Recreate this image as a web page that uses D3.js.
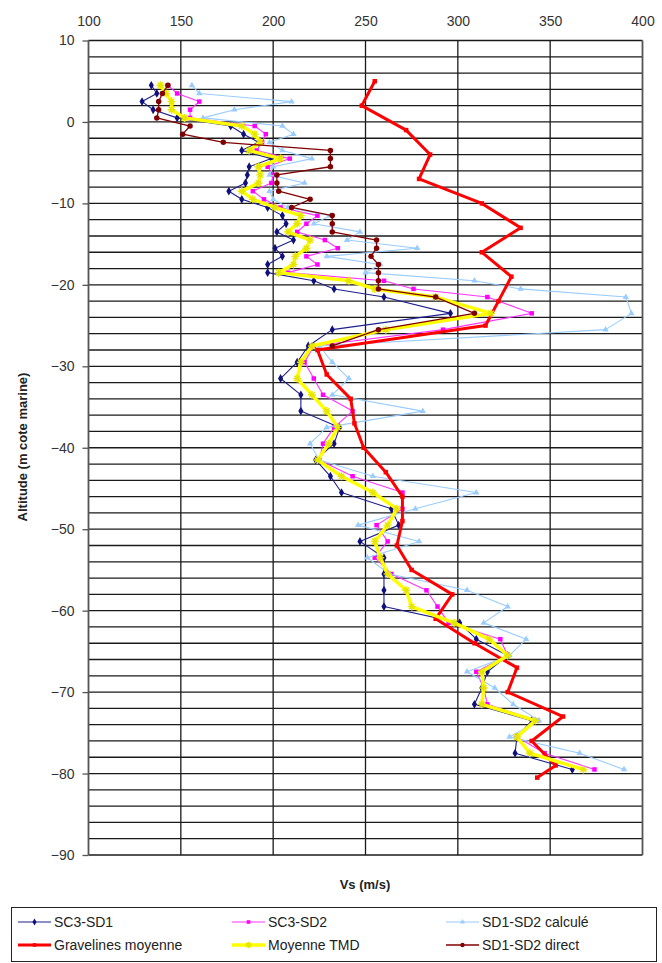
<!DOCTYPE html>
<html><head><meta charset="utf-8">
<script src="https://cdn.jsdelivr.net/npm/d3@7/dist/d3.min.js"></script>
<style>body{margin:0;background:#fff}svg{display:block}text{font-family:"Liberation Sans",Arial,sans-serif}</style>
</head><body><svg id="c" width="662" height="963"></svg>
<script>
// ---------- DATA ----------
const xTicks = [100, 150, 200, 250, 300, 350, 400];
const yTicks = [10, 0, -10, -20, -30, -40, -50, -60, -70, -80, -90];

// depth grid shared by SC3-SD1, SC3-SD2, SD1-SD2 calculé, Moyenne TMD (m)
const depths = [4.5, 3.5, 2.5, 1.5, 0.5, -0.5, -1.5, -2.5, -3.5, -4.5, -5.5, -6.5, -7.5, -8.5, -9.5,
  -10.5, -11.5, -12.5, -13.5, -14.5, -15.5, -16.5, -17.5, -18.5, -19.5, -20.5, -21.5,
  -23.5, -25.5, -27.5, -29.5, -31.5, -33.5, -35.5, -37.5, -39.5, -41.5, -43.5, -45.5, -47.5,
  -49.5, -51.5, -53.5, -55.5, -57.5, -59.5, -61.5, -63.5, -65.5, -67.5, -69.5, -71.5, -73.5,
  -75.5, -77.5, -79.5];

const sc3sd1 = [134, 137, 129, 135, 148, 177, 184, 192, 183, 199, 187, 186, 185, 176, 183,
  197, 205, 207, 202, 211, 201, 205, 197, 197, 222, 233, 260,
  296, 232, 219, 213, 204, 215, 215, 236, 233, 223, 231, 237, 264,
  268, 247, 260, 260, 260, 260, 301, 310, 327, 316, 313, 309, 340,
  332, 331, 362];

const sc3sd2 = [143, 148, 160, 155, 155, 190, 196, 194, 191, 209, 197, 200, 199, 189, 195,
  204, 224, 218, 213, 228, 235, 218, 224, 208, 260, 276, 316,
  340, 292, 222, 217, 222, 227, 243, 233, 227, 225, 243, 270, 270,
  256, 262, 255, 264, 283, 289, 295, 323, 327, 310, 314, 316, 343,
  332, 347, 374];

const sd1sd2Calc = [156, 160, 210, 179, 162, 205, 211, 198, 205, 221, 200, 198, 217, 198, 200,
  208, 231, 222, 247, 240, 278, 229, 258, 250, 309, 334, 391,
  394, 380, 225, 232, 241, 232, 281, 229, 220, 225, 254, 310, 277,
  246, 279, 251, 263, 305, 327, 314, 337, 328, 305, 320, 330, 344,
  328, 366, 390];

const moyenneTMD = [139, 142, 145, 145, 152, 183, 190, 193, 187, 204, 192, 193, 192, 183, 189,
  201, 215, 213, 208, 220, 218, 212, 211, 203, 241, 255, 288,
  318, 261, 221, 215, 213, 221, 229, 235, 230, 224, 237, 254, 267,
  262, 255, 258, 262, 272, 275, 298, 317, 327, 313, 314, 313, 342,
  332, 339, 368];

const depthsDirect = [4.5, 3.5, 2.5, 1.5, 0.5, -0.5, -1.5, -2.5, -3.5, -4.5, -5.5, -6.5, -7.5, -8.5, -9.5,
  -10.5, -11.5, -12.5, -13.5, -14.5, -15.5, -16.5, -17.5, -18.5, -19.5, -20.5, -21.5,
  -23.5, -25.5, -27.5];
const sd1sd2Direct = [143, 140, 138, 138, 137, 155, 151, 173, 231, 231, 231, 202, 202, 203, 220,
  210, 232, 232, 232, 256, 256, 253, 257, 257, 257, 257, 288,
  309, 257, 232];

const depthsGravelines = [5, 2, -1, -4, -7, -10, -13, -16, -19, -22, -25, -28, -31, -34, -37, -40,
  -43, -46, -49, -52, -55, -58, -61, -64, -67, -70, -73, -76, -79, -80.5];
const gravelines = [255, 248, 272, 285, 279, 313, 334, 313, 329, 322, 315, 224, 229, 242, 244, 249,
  261, 270, 270, 267, 275, 297, 288, 309, 332, 327, 357, 340, 353, 343];

const seriesNames = ["SC3-SD1", "SC3-SD2", "SD1-SD2 calculé", "Gravelines moyenne", "Moyenne TMD", "SD1-SD2 direct"];

// ---------- CHART ----------
const svg = d3.select("#c");
const x = d3.scaleLinear().domain([100, 400]).range([88.5, 642.5]);
const y = d3.scaleLinear().domain([10, -90]).range([40.5, 855]);

// horizontal grid every 2 m
const gridG = svg.append("g");
gridG.selectAll("line.h").data(d3.range(-90, 10.01, 2)).join("line")
  .attr("x1", x(100)).attr("x2", x(400))
  .attr("y1", d => y(d)).attr("y2", d => y(d))
  .attr("stroke", "#1a1a1a").attr("stroke-width", 1.3);
// vertical grid
gridG.selectAll("line.v").data(xTicks).join("line")
  .attr("x1", d => x(d)).attr("x2", d => x(d))
  .attr("y1", y(10)).attr("y2", y(-90))
  .attr("stroke", d => (d === 100 || d === 400) ? "#555" : "#1a1a1a")
  .attr("stroke-width", d => (d === 100 || d === 400) ? 1.8 : 1.3);

// axes
const topAxis = d3.axisTop(x).tickValues(xTicks).tickSize(0).tickPadding(0);
const gx = svg.append("g").attr("transform", "translate(0,22)").call(topAxis);
gx.select(".domain").remove();
gx.selectAll("text").attr("font-size", 14).attr("fill", "#333").attr("dy", "0.3em")
  .style("font-family", '"Liberation Sans",Arial,sans-serif');

const leftAxis = d3.axisLeft(y).tickValues(yTicks).tickSize(6).tickPadding(8).tickFormat(d3.format("d"));
const gy = svg.append("g").attr("transform", `translate(${x(100)},0)`).call(leftAxis);
gy.select(".domain").remove();
gy.selectAll("line").attr("stroke", "#555").attr("stroke-width", 1.3);
gy.selectAll("text").attr("font-size", 14).attr("fill", "#333")
  .style("font-family", '"Liberation Sans",Arial,sans-serif');

// axis titles
svg.append("text").attr("x", 365).attr("y", 889).attr("text-anchor", "middle")
  .attr("font-size", 13).attr("font-weight", "bold").attr("fill", "#222").text("Vs (m/s)");
svg.append("text").attr("transform", "translate(27,447) rotate(-90)").attr("text-anchor", "middle")
  .attr("font-size", 13).attr("font-weight", "bold").attr("fill", "#222").text("Altitude (m cote marine)");

// series helpers
const line = d3.line().x(d => x(d.v)).y(d => y(d.d));
function pts(ds, vs) { return ds.map((d, i) => ({ d: d, v: vs[i] })); }

function marker(g, type, color, size) {
  if (type === "diamond") {
    g.append("path").attr("d", d3.symbol(d3.symbolDiamond, size * size * 0.9)()).attr("fill", color);
  } else if (type === "square") {
    g.append("rect").attr("x", -size / 2).attr("y", -size / 2).attr("width", size).attr("height", size).attr("fill", color);
  } else if (type === "triangle") {
    g.append("path").attr("d", d3.symbol(d3.symbolTriangle, size * size * 0.7)()).attr("fill", color);
  } else if (type === "circle") {
    g.append("circle").attr("r", size / 2).attr("fill", color);
  } else if (type === "star") {
    const s = size / 2;
    g.append("path").attr("d", `M${-s},0L${s},0M0,${-s}L0,${s}M${-s * 0.7},${-s * 0.7}L${s * 0.7},${s * 0.7}M${-s * 0.7},${s * 0.7}L${s * 0.7},${-s * 0.7}`)
      .attr("stroke", color).attr("stroke-width", 1.4).attr("fill", "none");
  }
}

const series = [
  { name: seriesNames[0], data: pts(depths, sc3sd1), color: "#1f1f8f", width: 1.1, marker: "diamond", msize: 5, mcolor: "#10107a" },
  { name: seriesNames[1], data: pts(depths, sc3sd2), color: "#ff33ff", width: 1.1, marker: "square", msize: 4.5, mcolor: "#ff00ff" },
  { name: seriesNames[2], data: pts(depths, sd1sd2Calc), color: "#99ccff", width: 1.1, marker: "triangle", msize: 5, mcolor: "#99ccff" },
  { name: seriesNames[3], data: pts(depthsGravelines, gravelines), color: "#ff0000", width: 3, marker: "square", msize: 4.5, mcolor: "#ff0000" },
  { name: seriesNames[4], data: pts(depths, moyenneTMD), color: "#ffff00", width: 3.5, marker: "star", msize: 8, mcolor: "#e6e600" },
  { name: seriesNames[5], data: pts(depthsDirect, sd1sd2Direct), color: "#800000", width: 1.3, marker: "circle", msize: 5.5, mcolor: "#800000" }
];

const plotG = svg.append("g");
series.forEach(s => {
  const g = plotG.append("g");
  g.append("path").datum(s.data).attr("d", line).attr("fill", "none")
    .attr("stroke", s.color).attr("stroke-width", s.width).attr("stroke-linejoin", "round");
  g.selectAll("g.m").data(s.data).join("g")
    .attr("transform", d => `translate(${x(d.v)},${y(d.d)})`)
    .each(function () { marker(d3.select(this), s.marker, s.mcolor, s.msize); });
});

// legend
const lg = svg.append("g");
lg.append("rect").attr("x", 11.5).attr("y", 907.5).attr("width", 645).attr("height", 54)
  .attr("fill", "#fff").attr("stroke", "#222").attr("stroke-width", 1);
const colX = [18, 232, 446];
const rowY = [922, 945];
series.forEach((s, i) => {
  const cx = colX[i % 3], cy = rowY[Math.floor(i / 3)];
  const g = lg.append("g");
  g.append("line").attr("x1", cx).attr("x2", cx + 33).attr("y1", cy).attr("y2", cy)
    .attr("stroke", s.color).attr("stroke-width", s.width);
  const mg = g.append("g").attr("transform", `translate(${cx + 16.5},${cy})`);
  marker(mg, s.marker, s.mcolor, s.msize * 0.8);
  g.append("text").attr("x", cx + 36).attr("y", cy).attr("dy", "0.35em")
    .attr("font-size", 14).attr("fill", "#222").text(s.name);
});
</script>
</body></html>
